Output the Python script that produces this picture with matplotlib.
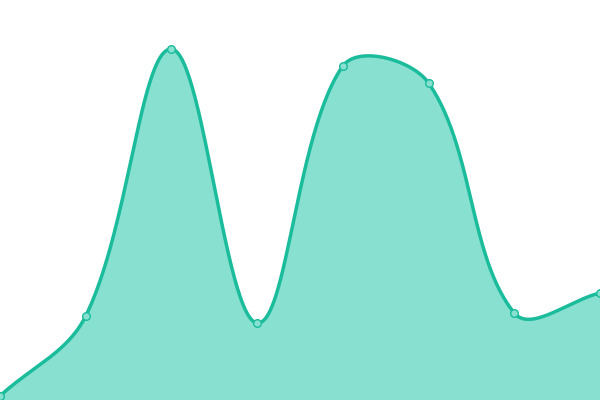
import numpy as np
import matplotlib
matplotlib.use("Agg")
import matplotlib.pyplot as plt

# values (canvas px from bottom)
categories = ["A", "B", "C", "D", "E", "F", "G", "H"]
values = [4, 84, 351, 77, 334, 317, 87, 107]

line_color = "#1abc9c"
fill_color = "#88e0d0"
smooth = 0.36
sx = 600 / (len(categories) - 1)   # px per category step, used for smoothing ratios


def smoothCurve(xs, ys, n=60):
    px = np.array(xs, dtype=float) * sx
    py = np.array(ys, dtype=float)
    m = len(px)
    cp0 = np.zeros((m, 2))
    cp1 = np.zeros((m, 2))
    for i in range(m):
        pi = max(i - 1, 0)
        ni = min(i + 1, m - 1)
        vx = px[ni] - px[pi]
        vy = py[ni] - py[pi]
        d0 = np.hypot(px[i] - px[pi], py[i] - py[pi])
        d1 = np.hypot(px[ni] - px[i], py[ni] - py[i])
        r = d1 / (d0 + d1) if d0 + d1 > 0 else 0.5
        cp0[i] = [px[i] - vx * smooth * (1 - r), py[i] - vy * smooth * (1 - r)]
        cp1[i] = [px[i] + vx * smooth * r, py[i] + vy * smooth * r]
    outx, outy = [], []
    t = np.linspace(0, 1, n)
    for i in range(m - 1):
        p0 = np.array([px[i], py[i]])
        p1 = cp1[i]
        p2 = cp0[i + 1]
        p3 = np.array([px[i + 1], py[i + 1]])
        b = ((1 - t) ** 3)[:, None] * p0 + (3 * (1 - t) ** 2 * t)[:, None] * p1 \
            + (3 * (1 - t) * t ** 2)[:, None] * p2 + (t ** 3)[:, None] * p3
        outx.extend(b[:, 0] / sx)
        outy.extend(b[:, 1])
    return np.array(outx), np.array(outy)


x = np.arange(len(categories))
cx, cy = smoothCurve(x, values)

fig = plt.figure(figsize=(6, 4), dpi=100)
ax = fig.add_axes([0, 0, 1, 1])
ax.fill_between(cx, 0, cy, color=fill_color, lw=0)
ax.plot(cx, cy, color=line_color, lw=2.5, solid_capstyle="round")
ax.plot(x, values, "o", ms=5.5, mfc=fill_color, mec=line_color, mew=1, clip_on=False)
ax.set_xlim(0, len(categories) - 1)
ax.set_ylim(0, 400)
ax.axis("off")
fig.savefig("out.png", dpi=100)
